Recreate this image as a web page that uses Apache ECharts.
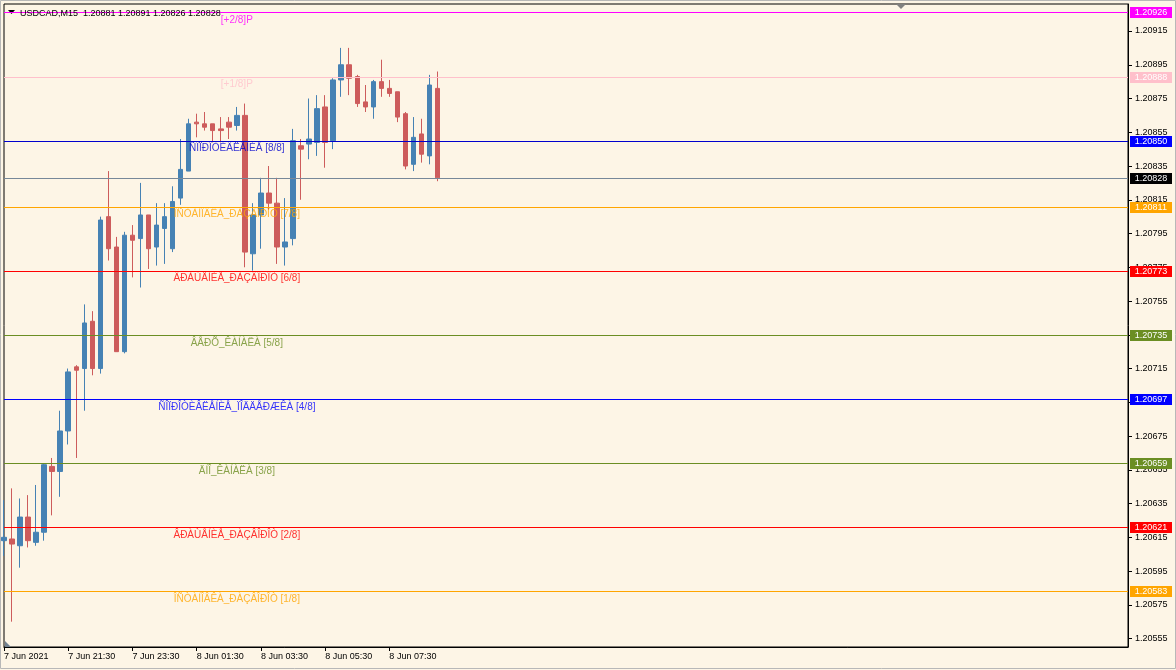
<!DOCTYPE html>
<html><head><meta charset="utf-8">
<script src="https://cdn.jsdelivr.net/npm/echarts@6/dist/echarts.min.js"></script>
<style>html,body{margin:0;padding:0;background:#FDF5E6}#c{width:1176px;height:670px}</style>
</head><body><div id="c"></div><script>
const symbolTitle = "USDCAD,M15  1.20881 1.20891 1.20826 1.20828";
const timeLabels = ["7 Jun 2021","7 Jun 21:30","7 Jun 23:30","8 Jun 01:30","8 Jun 03:30","8 Jun 05:30","8 Jun 07:30"];
const opens = [1.20613,1.20614,1.20610,1.20627,1.20612,1.20618,1.20657,1.20654,1.20678,1.20716,
1.20715,1.20743,1.20715,1.20805,1.20787,1.20725,1.20794,1.20792,1.20806,1.20787,
1.20798,1.20786,1.20816,1.20832,1.20861,1.20860,1.20860,1.20857,1.20861,1.20859,
1.20865,1.20783,1.20806,1.20819,1.20813,1.20787,1.20792,1.20847,1.20848,1.20849,
1.20870,1.20850,1.20886,1.20895,1.20888,1.20873,1.20870,1.20885,1.20881,1.20879,
1.20866,1.20836,1.20854,1.20841,1.20881];
const closes = [1.20615,1.20611,1.20627,1.20613,1.20618,1.20658,1.20654,1.20678,1.20713,1.20714,
1.20742,1.20715,1.20803,1.20786,1.20725,1.20794,1.20791,1.20806,1.20786,1.20800,
1.20805,1.20814,1.20833,1.20860,1.20860,1.20858,1.20856,1.20856,1.20858,1.20865,
1.20784,1.20806,1.20819,1.20813,1.20787,1.20790,1.20850,1.20845,1.20851,1.20869,
1.20849,1.20886,1.20895,1.20887,1.20872,1.20870,1.20885,1.20881,1.20878,1.20864,
1.20835,1.20852,1.20842,1.20883,1.20828];
const highs = [1.20637,1.20644,1.20638,1.20640,1.20646,1.20659,1.20662,1.20690,1.20715,1.20717,
1.20753,1.20749,1.20805,1.20832,1.20793,1.20796,1.20800,1.20825,1.20806,1.20813,
1.20813,1.20823,1.20851,1.20863,1.20866,1.20867,1.20860,1.20864,1.20864,1.20870,
1.20872,1.20813,1.20828,1.20835,1.20828,1.20816,1.20857,1.20851,1.20875,1.20877,
1.20877,1.20887,1.20905,1.20905,1.20889,1.20883,1.20886,1.20898,1.20886,1.20879,
1.20867,1.20864,1.20863,1.20889,1.20891];
const lows = [1.20604,1.20565,1.20597,1.20609,1.20610,1.20613,1.20628,1.20639,1.20670,1.20662,
1.20690,1.20711,1.20712,1.20779,1.20725,1.20724,1.20769,1.20763,1.20774,1.20776,
1.20777,1.20784,1.20812,1.20832,1.20852,1.20856,1.20849,1.20849,1.20851,1.20856,
1.20775,1.20773,1.20786,1.20809,1.20777,1.20776,1.20788,1.20815,1.20839,1.20841,
1.20834,1.20845,1.20876,1.20877,1.20870,1.20867,1.20863,1.20876,1.20876,1.20861,
1.20833,1.20832,1.20837,1.20836,1.20826];
const levels = [1.20926,1.20888,1.20850,1.20811,1.20773,1.20735,1.20697,1.20659,1.20621,1.20583];
const levelNames = ["[+2/8]P","[+1/8]P","ÑÎÏÐÎÒÈÂËÅÍÈÅ [8/8]","ÎÑÒÀÍÎÂÊÀ_ÐÀÇÂÎÐÎÒ [7/8]","ÂÐÀÙÅÍÈÅ_ÐÀÇÂÎÐÎÒ [6/8]","ÂÅÐÕ_ÊÀÍÀËÀ [5/8]","ÑÎÏÐÎÒÈÂËÅÍÈÅ_ÏÎÄÄÅÐÆÊÀ [4/8]","ÄÍÎ_ÊÀÍÀËÀ [3/8]","ÂÐÀÙÅÍÈÅ_ÐÀÇÂÎÐÎÒ [2/8]","ÎÑÒÀÍÎÂÊÀ_ÐÀÇÂÎÐÎÒ [1/8]"];
const levelColors = ["#FF00FF","#FFC0CB","#0000CD","#FFA500","#FF0000","#6B8E23","#0000FF","#6B8E23","#FF0000","#FFA500"];
const boxColors = ["#FF00FF","#FFC0CB","#0000FF","#FFA500","#FF0000","#6B8E23","#0000FF","#6B8E23","#FF0000","#FFA500"];
const lastPrice = 1.20828;
const yTicks = [1.20555,1.20575,1.20595,1.20615,1.20635,1.20655,1.20675,1.20695,1.20715,1.20735,1.20755,1.20775,1.20795,1.20815,1.20835,1.20855,1.20875,1.20895,1.20915];

const TOTAL_SLOTS = 141, LABEL_BAR = 29, LABEL_STEP = 8;
const cats = [];
for (let i = 0; i < TOTAL_SLOTS; i++) {
  cats.push(i % LABEL_STEP === 0 && i / LABEL_STEP < timeLabels.length ? timeLabels[i / LABEL_STEP] : 'b' + i);
}
const showIdx = (i) => i % LABEL_STEP === 0 && i / LABEL_STEP < timeLabels.length;
const FONT = 'Liberation Sans';

const candleData = opens.map((o, i) => [o, closes[i], lows[i], highs[i]]);

// horizontal lines: Murrey levels + current price
const allLines = levels.concat([lastPrice]);
const allLineColors = levelColors.concat(['#778899']);
const allBoxColors = boxColors.concat(['#000000']);

const chart = echarts.init(document.getElementById('c'), null, { renderer: 'canvas' });
chart.setOption({
  backgroundColor: '#FDF5E6',
  animation: false,
  title: { text: symbolTitle, left: 15, top: 4, textStyle: { fontFamily: FONT, fontSize: 9, fontWeight: 'normal', color: '#000' } },
  grid: { left: 4, right: 48, top: 4, bottom: 23, show: true, borderColor: '#000', borderWidth: 1, backgroundColor: 'transparent' },
  xAxis: {
    type: 'category', data: cats, boundaryGap: false,
    axisLine: { show: true, lineStyle: { color: '#000', width: 1 } },
    axisTick: { show: true, length: 4, interval: (i) => showIdx(i), lineStyle: { color: '#000' } },
    axisLabel: { show: true, interval: (i) => showIdx(i), align: 'left', margin: 5, color: '#000', fontFamily: FONT, fontSize: 9 },
    splitLine: { show: false }
  },
  yAxis: {
    type: 'value', position: 'right', min: 1.2055, max: 1.20931, scale: true,
    axisLine: { show: true, lineStyle: { color: '#000', width: 1 } },
    axisTick: { show: true, length: 4, customValues: yTicks, lineStyle: { color: '#000' } },
    axisLabel: { show: true, customValues: yTicks, margin: 7, color: '#000', fontFamily: FONT, fontSize: 9, formatter: (v) => v.toFixed(5) },
    splitLine: { show: false }
  },
  series: [
    {
      type: 'candlestick', data: candleData, barWidth: 5, z: 2,
      itemStyle: { color: '#4682B4', color0: '#CD5C5C', borderColor: '#4682B4', borderColor0: '#CD5C5C', borderWidth: 1 }
    },
    {
      type: 'custom', coordinateSystem: 'cartesian2d', clip: false, silent: true, z: 4,
      encode: { x: 0, y: 1 },
      data: allLines.map((v) => [0, v]),
      renderItem: (params, api) => {
        const i = params.dataIndex;
        const v = api.value(1);
        const cs = params.coordSys;
        const py = Math.round(api.coord([0, v])[1]);
        const right = cs.x + cs.width;
        return {
          type: 'group',
          children: [
            { type: 'line', shape: { x1: cs.x, y1: py + 0.5, x2: right, y2: py + 0.5 }, style: { stroke: allLineColors[i], lineWidth: 1 } },
            { type: 'rect', shape: { x: right + 2, y: py - 5, width: 42, height: 11 }, style: { fill: allBoxColors[i] } },
            { type: 'text', x: right + 23, y: py + 1, style: { text: v.toFixed(5), fill: '#fff', font: '9px "Liberation Sans"', align: 'center', verticalAlign: 'middle' } }
          ]
        };
      }
    },
    {
      type: 'scatter', symbolSize: 1, itemStyle: { color: 'rgba(0,0,0,0)' }, silent: true, z: 5,
      data: levels.map((v, i) => ({
        value: [LABEL_BAR, v],
        label: { show: true, position: 'inside', offset: [0, 8], formatter: levelNames[i], color: levelColors[i], fontFamily: FONT, fontSize: 10 }
      }))
    }
  ],
  graphic: [
    { type: 'polygon', shape: { points: [[8, 10], [15, 10], [11.5, 14]] }, style: { fill: '#000' } },
    { type: 'polygon', shape: { points: [[896, 4], [906, 4], [901, 9]] }, style: { fill: '#808080' } },
    { type: 'polygon', shape: { points: [[5, 641], [5, 647], [11, 647]] }, style: { fill: '#708090' } },
    { type: 'rect', shape: { x: 0.5, y: 0.5, width: 1175, height: 668 }, style: { fill: 'none', stroke: '#b8b8b8', lineWidth: 1 }, silent: true }
  ]
});
</script></body></html>
